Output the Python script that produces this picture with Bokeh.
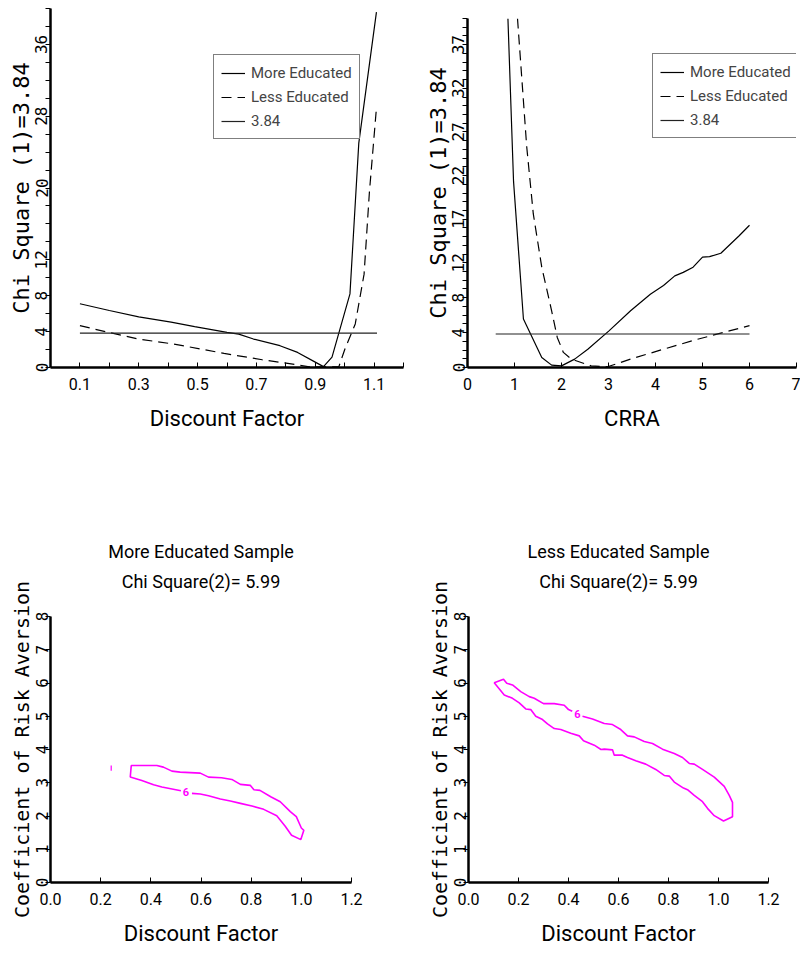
from bokeh.plotting import figure
from bokeh.models import FixedTicker, Legend, LegendItem, Title, Range1d
from bokeh.layouts import column, row
from bokeh.embed import file_html
from bokeh.resources import INLINE
from bokeh.core.properties import value

NARROW = "Roboto"
WIDE = "DejaVu Sans Mono"
MAGENTA = "#ff00ff"

# ---------------- Panel 1: Chi square vs discount factor ----------------
df_more_x = [0.10, 0.20, 0.30, 0.41, 0.49, 0.60, 0.64, 0.69, 0.78, 0.84, 0.90, 0.928, 0.957, 1.018, 1.048, 1.108]
df_more_y = [7.1, 6.35, 5.65, 5.05, 4.55, 3.92, 3.72, 3.17, 2.43, 1.68, 0.6, 0.1, 1.15, 8.2, 25.0, 39.6]
df_less_x = [0.10, 0.20, 0.30, 0.42, 0.59, 0.72, 0.84, 0.88, 0.98, 1.00, 1.036, 1.066, 1.084, 1.108]
df_less_y = [4.66, 3.9, 3.17, 2.61, 1.57, 0.86, 0.30, 0.07, 0.07, 1.98, 4.85, 10.4, 19.5, 28.9]
df_crit_x = [0.10, 1.11]
df_crit_y = [3.84, 3.84]

# ---------------- Panel 2: Chi square vs CRRA ----------------
crra_more_x = [0.86, 0.98, 1.19, 1.58, 1.79, 2.00, 2.28, 2.56, 3.01, 3.47, 3.89, 4.17, 4.41, 4.59, 4.80, 5.00, 5.15, 5.39, 5.78, 6.00]
crra_more_y = [40.0, 21.3, 5.56, 1.15, 0.27, 0.19, 0.96, 2.1, 4.2, 6.5, 8.4, 9.4, 10.5, 10.9, 11.5, 12.65, 12.7, 13.1, 15.1, 16.3]
crra_less_x = [1.064, 1.26, 1.40, 1.58, 1.79, 1.91, 2.04, 2.21, 2.63, 2.98, 3.47, 4.17, 4.87, 5.57, 6.00]
crra_less_y = [40.0, 25.3, 17.6, 11.5, 6.5, 3.45, 1.73, 0.96, 0.19, 0.08, 0.96, 2.1, 3.2, 4.2, 4.8]
crra_crit_x = [0.60, 6.00]
crra_crit_y = [3.84, 3.84]

# ---------------- Panel 3: More educated contour (Chi2(2)=5.99) ----------------
me_cont_x = [0.564, 0.597, 0.63, 0.677, 0.717, 0.757, 0.803, 0.85, 0.902, 0.935, 0.961, 0.998, 1.01, 1.0,
             0.98, 0.956, 0.916, 0.878, 0.835, 0.811, 0.797, 0.757, 0.723, 0.682, 0.63, 0.597, 0.517, 0.484,
             0.45, 0.424, 0.322, 0.318, 0.364, 0.411, 0.444, 0.52]
me_cont_y = [2.68, 2.66, 2.61, 2.51, 2.45, 2.38, 2.30, 2.2, 2.01, 1.70, 1.42, 1.29, 1.57, 1.64,
             1.98, 2.13, 2.43, 2.58, 2.77, 2.79, 2.92, 2.95, 3.10, 3.15, 3.17, 3.29, 3.32, 3.35,
             3.47, 3.52, 3.52, 3.17, 3.07, 2.94, 2.87, 2.76]
me_frag_x = [0.242, 0.242]
me_frag_y = [3.36, 3.52]
me_lab_x = [0.54]
me_lab_y = [2.72]
me_lab_t = ["6"]

# ---------------- Panel 4: Less educated contour ----------------
le_cont_x = [0.456, 0.496, 0.543, 0.576, 0.609, 0.636, 0.663, 0.703, 0.736, 0.776, 0.823, 0.856, 0.883, 0.903,
             0.936, 0.983, 1.023, 1.043, 1.056, 1.056, 1.02, 0.983, 0.956, 0.936, 0.903, 0.876, 0.86, 0.823,
             0.803, 0.783, 0.749, 0.709, 0.669, 0.636, 0.616, 0.583, 0.576, 0.543, 0.53, 0.503, 0.46, 0.443,
             0.409, 0.369, 0.343, 0.316, 0.296, 0.269, 0.249, 0.229, 0.203, 0.176, 0.143, 0.103, 0.14, 0.153,
             0.176, 0.209, 0.243, 0.263, 0.3, 0.343, 0.383, 0.4, 0.415]
le_cont_y = [5.0, 4.92, 4.78, 4.75, 4.6, 4.41, 4.38, 4.24, 4.18, 4.01, 3.88, 3.76, 3.58, 3.56,
             3.40, 3.17, 2.89, 2.62, 2.41, 1.98, 1.85, 2.01, 2.23, 2.43, 2.62, 2.79, 2.84, 3.02,
             3.2, 3.22, 3.40, 3.56, 3.66, 3.76, 3.83, 3.83, 3.99, 4.01, 4.0, 4.13, 4.26, 4.41,
             4.49, 4.6, 4.63, 4.77, 4.9, 5.0, 5.2, 5.22, 5.4, 5.54, 5.64, 6.01, 6.11, 5.99,
             5.94, 5.74, 5.59, 5.54, 5.38, 5.38, 5.33, 5.2, 5.15]
le_lab_x = [0.436]
le_lab_y = [5.08]
le_lab_t = ["6"]

# ---------------- ticks ----------------
p1_xmaj = [0.1, 0.3, 0.5, 0.7, 0.9, 1.1]
p1_xlab = ["0.1", "0.3", "0.5", "0.7", "0.9", "1.1"]
p1_xmin = [0.2, 0.4, 0.6, 0.8, 1.0, 1.2]
p1_ymaj = [0, 4, 8, 12, 20, 28, 36]
p1_ylab = ["0", "4", "8", "12", "20", "28", "36"]
p1_ymin = [2, 6, 10, 14, 16, 18, 22, 24, 26, 30, 32, 34, 38, 40]

p2_xmaj = [0, 1, 2, 3, 4, 5, 6, 7]
p2_xlab = ["0", "1", "2", "3", "4", "5", "6", "7"]
p2_xmin = []
p2_ymaj = [0, 4, 8, 12, 17, 22, 27, 32, 37]
p2_ylab = ["0", "4", "8", "12", "17", "22", "27", "32", "37"]
p2_ymin = [1, 2, 3, 5, 6, 7, 9, 10, 11, 13, 14, 15, 16, 18, 19, 20, 21, 23, 24, 25, 26, 28, 29, 30, 31,
           33, 34, 35, 36, 38, 39, 40]

p34_xmaj = [0.0, 0.2, 0.4, 0.6, 0.8, 1.0, 1.2]
p34_xlab = ["0.0", "0.2", "0.4", "0.6", "0.8", "1.0", "1.2"]
p34_ymaj = [0, 1, 2, 3, 4, 5, 6, 7, 8]
p34_ylab = ["0", "1", "2", "3", "4", "5", "6", "7", "8"]


def make_fig(width, height, xr, yr, left, right, top, bottom):
    p = figure(width=width, height=height, x_range=Range1d(*xr), y_range=Range1d(*yr),
               output_backend="svg", toolbar_location=None, tools="",
               min_border_left=left, min_border_right=right,
               min_border_top=top, min_border_bottom=bottom)
    p.outline_line_color = None
    p.grid.visible = False
    p.background_fill_color = "white"
    p.border_fill_color = "white"
    return p


def style_axes(p, xmaj, xlab, xmin, ymaj, ylab, ymin, xtitle, ytitle, ytitle_size):
    xa = p.xaxis[0]
    ya = p.yaxis[0]
    xa.ticker = FixedTicker(ticks=xmaj, minor_ticks=xmin)
    xa.major_label_overrides = dict(zip(xmaj, xlab))
    ya.ticker = FixedTicker(ticks=ymaj, minor_ticks=ymin)
    ya.major_label_overrides = dict(zip(ymaj, ylab))
    for a in (xa, ya):
        a.axis_line_width = 2.5
        a.axis_line_color = "black"
        a.major_tick_line_color = "black"
        a.minor_tick_line_color = "black"
        a.major_tick_line_width = 1
        a.minor_tick_line_width = 1
        a.axis_label_text_font_style = "normal"
        a.axis_label_text_color = "black"
        a.major_label_text_color = "black"
    xa.major_tick_in = 5
    xa.major_tick_out = 0
    xa.minor_tick_in = 5
    xa.minor_tick_out = 0
    xa.major_label_text_font = NARROW
    xa.major_label_text_font_size = "16px"
    xa.major_label_standoff = 10
    xa.axis_label = xtitle
    xa.axis_label_text_font = NARROW
    xa.axis_label_text_font_size = "22px"
    xa.axis_label_standoff = 13

    ya.major_tick_in = 0
    ya.major_tick_out = 5
    ya.minor_tick_in = 0
    ya.minor_tick_out = 5
    ya.major_label_orientation = "vertical"
    ya.major_label_text_font = WIDE
    ya.major_label_text_font_size = "16px"
    ya.major_label_standoff = -2
    ya.axis_label = ytitle
    ya.axis_label_text_font = WIDE
    ya.axis_label_text_font_size = ytitle_size
    ya.axis_label_standoff = -1


def add_legend(p, renderers, loc):
    items = [LegendItem(label="More Educated", renderers=[renderers[0]]),
             LegendItem(label="Less Educated", renderers=[renderers[1]]),
             LegendItem(label="3.84", renderers=[renderers[2]])]
    lg = Legend(items=items, location=loc)
    lg.border_line_color = "black"
    lg.border_line_width = 1
    lg.background_fill_alpha = 1
    lg.label_text_font = NARROW
    lg.label_text_font_size = "15px"
    lg.glyph_width = 24
    lg.glyph_height = 20
    lg.label_height = 21
    lg.spacing = 3
    lg.padding = 7
    lg.margin = 0
    lg.label_standoff = 6
    p.add_layout(lg)


# ---- panel 1
p1 = make_fig(408, 440, (0, 1.2), (0, 40), 50, 5, 8, 73)
style_axes(p1, p1_xmaj, p1_xlab, p1_xmin, p1_ymaj, p1_ylab, p1_ymin,
           "Discount Factor", "Chi Square (1)=3.84", "22px")
r1 = p1.line(df_more_x, df_more_y, line_color="black", line_width=1.2)
r2 = p1.line(df_less_x, df_less_y, line_color="black", line_width=1.2, line_dash="10 6")
r3 = p1.line(df_crit_x, df_crit_y, line_color="#222222", line_width=1.2)
add_legend(p1, [r1, r2, r3], (163, 228))

# ---- panel 2
p2 = make_fig(392, 440, (0, 7), (0, 40), 59, 4, 18, 73)
style_axes(p2, p2_xmaj, p2_xlab, p2_xmin, p2_ymaj, p2_ylab, p2_ymin,
           "CRRA", "Chi Square (1)=3.84", "22px")
s1 = p2.line(crra_more_x, crra_more_y, line_color="black", line_width=1.2)
s2 = p2.line(crra_less_x, crra_less_y, line_color="black", line_width=1.2, line_dash="10 6")
s3 = p2.line(crra_crit_x, crra_crit_y, line_color="#222222", line_width=1.2)
add_legend(p2, [s1, s2, s3], (185, 229))


def contour_fig(width, left, right, title1, title2, cx, cy, lx, ly, lt):
    p = make_fig(width, 508, (0, 1.2), (0, 8), left, right, 176, 63)
    style_axes(p, p34_xmaj, p34_xlab, [], p34_ymaj, p34_ylab, [],
               "Discount Factor", "Coefficient of Risk Aversion", "20px")
    gap = Title(text=" ", align="center", text_font=NARROW, text_font_size="16px", standoff=0)
    t2 = Title(text=title2, align="center", text_font=NARROW, text_font_size="18px",
               text_font_style="normal", text_color="black", standoff=7)
    t1 = Title(text=title1, align="center", text_font=NARROW, text_font_size="18px",
               text_font_style="normal", text_color="black", standoff=7)
    p.add_layout(gap, "above")
    p.add_layout(t2, "above")
    p.add_layout(t1, "above")
    p.line(cx, cy, line_color=MAGENTA, line_width=1.6)
    p.text(x=lx, y=ly, text=lt, text_color=MAGENTA, text_font=value(NARROW),
           text_font_size="11px", text_font_style="bold", text_align="center",
           text_baseline="middle")
    return p


p3 = contour_fig(408, 50, 57, "More Educated Sample", "Chi Square(2)= 5.99",
                 me_cont_x, me_cont_y, me_lab_x, me_lab_y, me_lab_t)
p3.line(me_frag_x, me_frag_y, line_color=MAGENTA, line_width=1.2)
p4 = contour_fig(392, 60, 32, "Less Educated Sample", "Chi Square(2)= 5.99",
                 le_cont_x, le_cont_y, le_lab_x, le_lab_y, le_lab_t)

layout = column(row(column(p1), column(p2)), row(p3, p4))
open("out.html", "w").write(file_html(layout, INLINE))
